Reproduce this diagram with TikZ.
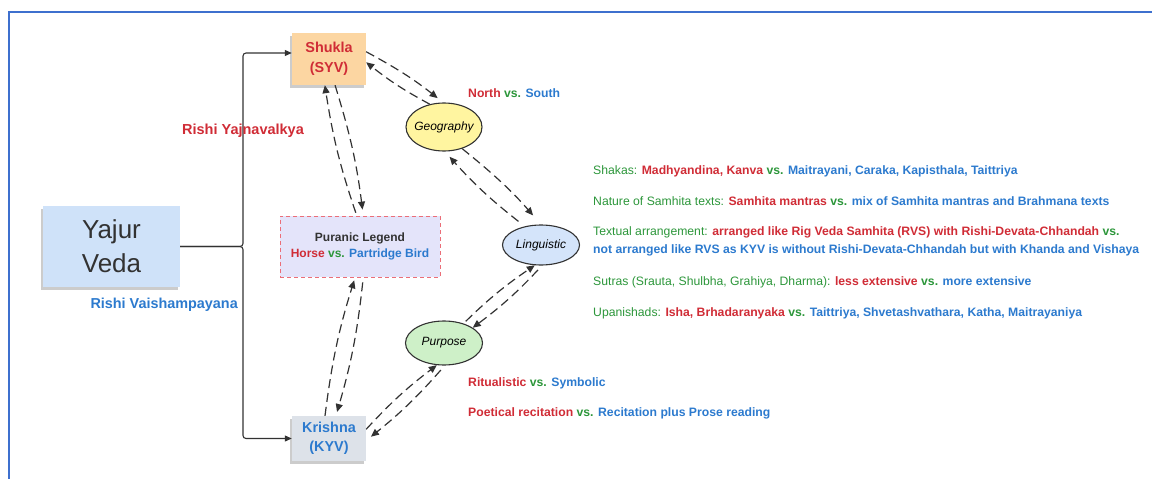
\documentclass[tikz,border=0pt]{standalone}
\usepackage{fontspec}
\setmainfont{Liberation Sans}
\usetikzlibrary{arrows.meta}
\usetikzlibrary{shapes.geometric}
\usetikzlibrary{shadows}
\definecolor{vedared}{RGB}{208,44,54}
\definecolor{vedagreen}{RGB}{44,150,58}
\definecolor{vedablue}{RGB}{44,122,206}
\definecolor{frameblue}{RGB}{62,112,206}
\definecolor{ink}{RGB}{50,50,50}
\definecolor{yajurfill}{RGB}{207,226,249}
\definecolor{shuklafill}{RGB}{252,214,162}
\definecolor{krishnafill}{RGB}{221,226,233}
\definecolor{legendfill}{RGB}{228,228,250}
\definecolor{legenddraw}{RGB}{235,110,120}
\definecolor{geofill}{RGB}{255,245,160}
\definecolor{lingfill}{RGB}{212,228,250}
\definecolor{purpfill}{RGB}{206,240,200}
\newcommand{\rtxt}[1]{\textbf{\textcolor{vedared}{#1}}}
\newcommand{\btxt}[1]{\textbf{\textcolor{vedablue}{#1}}}
\newcommand{\gtxt}[1]{\textcolor{vedagreen}{#1}}
\newcommand{\versus}{\textbf{\textcolor{vedagreen}{vs.}}}
\tikzset{box/.style = {inner sep = 0, align = center},
  oval/.style = {ellipse, draw = ink, line width = 1.1pt, inner sep = 0,
    font = \fontsize{12}{14}\selectfont\itshape},
  link/.style = {ink, line width = 1.1pt, rounded corners = 3pt,
    -{Triangle[length = 7pt, width = 6pt]}},
  dlink/.style = {ink, line width = 1.2pt, dash pattern = on 9pt off 5pt,
    -{Triangle[length = 8pt, width = 7pt]}, bend left = 5},
  note/.style = {anchor = west, inner sep = 0, align = left,
    font = \fontsize{12.2}{18}\selectfont},
  shade/.style = {drop shadow = {shadow xshift = -2pt, shadow yshift = -3pt,
    opacity = 0.2, fill = black}}}

\begin{document}
\begin{tikzpicture}[x = 1pt, y = -1pt]
    \useasboundingbox (0, 0) rectangle (1152, 479);
    \draw [frameblue, line width = 2pt] (9, 479) -- (9, 12) -- (1152, 12);

    \node [box, shade, fill = yajurfill, minimum width = 137, minimum height = 81,
      text = ink, font = \fontsize{26}{34}\selectfont] (yajur) at (111.5, 246.5) {Yajur\\Veda};
    \node [box, shade, fill = shuklafill, minimum width = 74, minimum height = 52,
      font = \fontsize{14.4}{20}\selectfont\bfseries, text = vedared] (shukla) at (329, 59) {Shukla\\(SYV)};
    \node [box, shade, fill = krishnafill, minimum width = 74, minimum height = 45,
      font = \fontsize{14.4}{19}\selectfont\bfseries, text = vedablue] (krishna) at (329, 438.5) {Krishna\\(KYV)};
    \node [box, fill = legendfill, draw = legenddraw, line width = 0.9pt, dash pattern = on 4pt off 3pt,
      minimum width = 160, minimum height = 61, font = \fontsize{12}{16}\selectfont\bfseries] (legend)
      at (360, 246.5) {\textcolor{ink}{Puranic Legend}\\\textcolor{vedared}{Horse} \textcolor{vedagreen}{vs.} \textcolor{vedablue}{Partridge Bird}};

    \node [oval, fill = geofill, minimum width = 76, minimum height = 48] (geo) at (444, 127) {\makebox[0pt]{Geography}};
    \node [oval, fill = lingfill, minimum width = 77, minimum height = 40] (ling) at (541, 245) {\makebox[0pt]{Linguistic}};
    \node [oval, fill = purpfill, minimum width = 77, minimum height = 44] (purp) at (444, 343) {\makebox[0pt]{Purpose}};

    % branches of the Veda
    \draw [link] (yajur.east) -- (243, 246.5) |- ([yshift = 6pt]shukla.west);
    \draw [link] (yajur.east) -- (243, 246.5) |- (krishna.west);
    \node [font = \fontsize{14.5}{16}\selectfont\bfseries, text = vedared, inner sep = 0] (yajna) at (243, 131) {Rishi Yajnavalkya};
    \node [font = \fontsize{14.4}{16}\selectfont\bfseries, text = vedablue, inner sep = 0, anchor = east] (vaisha)
      at (238, 305) {Rishi Vaishampayana};

    % dashed pairs
    \draw [dlink, shorten > = 7pt] (shukla.11) to (geo.92);
    \draw [dlink] (geo.122) to (shukla.-5);
    \draw [dlink, shorten > = 12pt] (geo.-50) to (ling.north);
    \draw [dlink, shorten < = 8pt, shorten > = 7pt] (ling.131) to (geo.-88);
    \draw [dlink, shorten > = 6pt] (shukla.-77) to (legend.84);
    \draw [dlink, shorten < = 3pt] (legend.96) to (shukla.-99);
    \draw [dlink, shorten > = 3pt] (krishna.100) to (legend.-99);
    \draw [dlink, shorten < = 5pt, shorten > = 4pt] (legend.-84) to (krishna.73);
    \draw [dlink] (krishna.14) to (purp.-108);
    \draw [dlink, shorten < = 6pt, shorten > = 6pt] (purp.-88) to (krishna.-3);
    \draw [dlink, shorten < = 3pt] (purp.45) to (ling.-107);
    \draw [dlink, shorten < = 6pt] (ling.-87) to (purp.28);

    \node [note] (northsouth) at (468, 93) {\rtxt{North} \versus{} \btxt{South}};
    \node [note] (shakas) at (593, 171) {\gtxt{Shakas:} \rtxt{Madhyandina, Kanva} \versus{} \btxt{Maitrayani, Caraka, Kapisthala, Taittriya}};
    \node [note] (nature) at (593, 201) {\gtxt{Nature of Samhita texts:} \rtxt{Samhita mantras} \versus{} \btxt{mix of Samhita mantras and Brahmana texts}};
    \node [note] (textual) at (593, 241) {\gtxt{Textual arrangement:} \rtxt{arranged like Rig Veda Samhita (RVS) with Rishi-Devata-Chhandah} \versus\\
      \btxt{not arranged like RVS as KYV is without Rishi-Devata-Chhandah but with Khanda and Vishaya}};
    \node [note] (sutras) at (593, 282) {\gtxt{Sutras (Srauta, Shulbha, Grahiya, Dharma):} \rtxt{less extensive} \versus{} \btxt{more extensive}};
    \node [note] (upani) at (593, 313) {\gtxt{Upanishads:} \rtxt{Isha, Brhadaranyaka} \versus{} \btxt{Taittriya, Shvetashvathara, Katha, Maitrayaniya}};
    \node [note] (ritual) at (468, 383) {\rtxt{Ritualistic} \versus{} \btxt{Symbolic}};
    \node [note] (poetic) at (468, 413) {\rtxt{Poetical recitation} \versus{} \btxt{Recitation plus Prose reading}};
\end{tikzpicture}
\end{document}
